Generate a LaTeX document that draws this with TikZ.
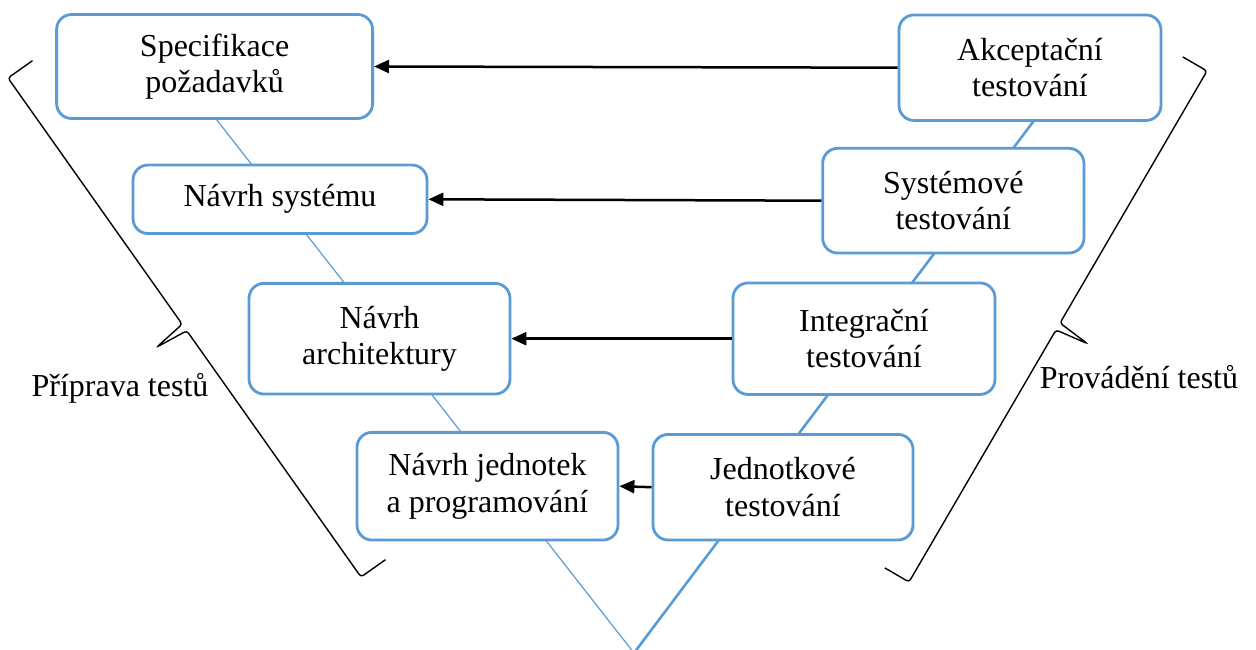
\documentclass[tikz,border=0pt]{standalone}
\usepackage{fontspec}
\setmainfont{Liberation Serif}
\usetikzlibrary{arrows.meta,calc}
\definecolor{vblue}{RGB}{91,155,213}
\begin{document}
\begin{tikzpicture}[x=1pt,y=-1pt,
  stage/.style={draw=vblue, line width=2.8pt, fill=white, rounded corners=15pt,
    align=center, inner sep=0pt, font=\fontsize{32}{36.5}\selectfont},
  feedback/.style={draw=black, line width=2.5pt, -{Triangle[length=15pt,width=13pt]}},
  vleg/.style={draw=vblue},
  bracket/.style={draw=black, line width=1.4pt, rounded corners=3pt},
  side/.style={font=\fontsize{32}{36.5}\selectfont, anchor=base}]
\useasboundingbox (0,0) rectangle (1256,650);
\clip (0,0) rectangle (1256,650);

% the V behind the stages
\coordinate (apex) at (634,653);
\coordinate (ltop) at (173,64);
\coordinate (rtop) at (1072,70);
\draw[vleg, line width=1.2pt] (apex) -- (ltop);
\draw[vleg, line width=2.6pt] (apex) -- (rtop);

% left branch: design stages
\node[stage, minimum width=316pt, minimum height=104pt] (spec) at (214.6,66.5) {Specifikace\\požadavků};
\node[stage, minimum width=294pt, minimum height=68.5pt] (nsys) at (280,199.3) {\raisebox{-3pt}{Návrh systému}};
\node[stage, minimum width=261pt, minimum height=110.7pt] (arch) at (379.5,338.7) {Návrh\\architektury};
\node[stage, minimum width=261pt, minimum height=107.7pt] (jedn) at (487.5,486.2) {Návrh jednotek\\a programování};

% right branch: testing stages
\node[stage, minimum width=262pt, minimum height=105.5pt] (akc) at (1030,67.7) {Akceptační\\testování};
\node[stage, minimum width=261.3pt, minimum height=104.7pt] (systest) at (953.3,200.7) {Systémové\\testování};
\node[stage, minimum width=262pt, minimum height=111.5pt] (integ) at (864,338.7) {Integrační\\testování};
\node[stage, minimum width=260pt, minimum height=105.5pt] (jednotk) at (783,487.2) {Jednotkové\\testování};

% feedback arrows from tests to the matching design stage
\draw[feedback] (akc.west) -- (spec.east);
\draw[feedback] (systest.west) -- (nsys.east);
\draw[feedback] (integ.west) -- (arch.east);
\draw[feedback] (jednotk.west) -- (jedn.east);

% left brace
\coordinate (lbA) at (8,78);
\coordinate (lbB) at (361,577);
\draw[bracket] ($(lbA)!30pt!90:(lbB)$) -- (lbA)
  -- ($(lbA)!0.5!(lbB)!-4pt!(lbB)$)
  -- ($(lbA)!0.5!(lbB)!34pt!-90:(lbB)$)
  -- ($(lbA)!0.5!(lbB)!4pt!(lbB)$)
  -- (lbB) -- ($(lbB)!30pt!-90:(lbA)$);

% right brace
\coordinate (rbA) at (1207,71);
\coordinate (rbB) at (909,582);
\draw[bracket] ($(rbA)!28pt!-90:(rbB)$) -- (rbA)
  -- ($(rbA)!0.5!(rbB)!-4pt!(rbB)$)
  -- ($(rbA)!0.5!(rbB)!34pt!90:(rbB)$)
  -- ($(rbA)!0.5!(rbB)!4pt!(rbB)$)
  -- (rbB) -- ($(rbB)!28pt!90:(rbA)$);

\node[side] (prep) at (120,396) {Příprava testů};
\node[side] (exec) at (1139,388) {Provádění testů};
\end{tikzpicture}
\end{document}
